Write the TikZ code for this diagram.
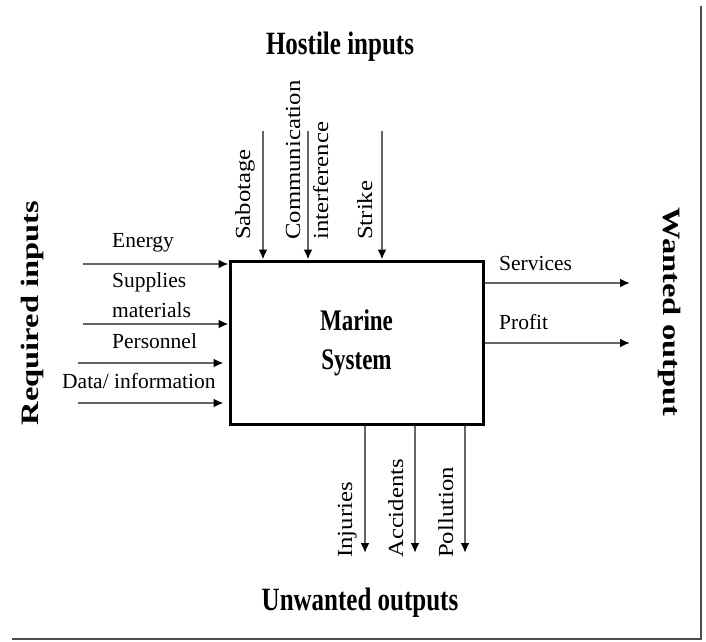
\documentclass[tikz,border=0pt]{standalone}
\usepackage{fontspec}
\setmainfont{Liberation Serif}
\usepackage{graphicx}
\usepackage{tikz}
\usetikzlibrary{arrows.meta}
\tikzset{>=latex}
\tikzstyle{flow} = [draw=black!60, line width=2pt, -{Latex[length=10pt, width=9pt, color=black]}]
\tikzstyle{lbl} = [draw=none, inner sep=0pt, font=\fontsize{21.5}{24}\selectfont]
\tikzstyle{ttl} = [draw=none, inner sep=0pt, font=\fontsize{25}{28}\selectfont\bfseries]
\newcommand{\tallbf}[1]{\scalebox{1}[1.3]{#1}}
\newcommand{\longbf}[1]{\scalebox{1.3}[1]{#1}}
\newcommand{\uplbl}[1]{\scalebox{1.15}[1]{#1}}

\begin{document}
\begin{tikzpicture}[x=1pt, y=-1pt]
\useasboundingbox (0,0) rectangle (706,641);
\fill [white] (0,0) rectangle (706,641);
\coordinate (F1) at (701,6);
\coordinate (F2) at (701,639);
\coordinate (F3) at (12,639);
\draw [black!70, line width=2pt] (F1) -- (F2) -- (F3);

\node [rectangle, draw, line width=3pt, minimum width=253pt, minimum height=163pt, inner sep=0pt,
       font=\fontsize{23}{30}\selectfont\bfseries] (M) at (356.5,342.5)
       {\tallbf{\begin{tabular}{c}Marine\\System\end{tabular}}};

\node [ttl] (H) at (340,47) {\tallbf{Hostile inputs}};
\node [ttl] (U) at (360,603) {\tallbf{Unwanted outputs}};
\node [ttl, rotate=90] (R) at (32,313) {\longbf{Required inputs}};
\node [ttl, rotate=-90] (W) at (670,312) {\longbf{Wanted output}};

\coordinate (e0) at (83,264);
\coordinate (s0) at (83,324);
\coordinate (p0) at (78,363);
\coordinate (d0) at (78,403);
\draw [flow] (e0) -- (e0 -| M.west);
\draw [flow] (s0) -- (s0 -| M.west);
\draw [flow, shorten >=5pt] (p0) -- (p0 -| M.west);
\draw [flow, shorten >=5pt] (d0) -- (d0 -| M.west);
\node [lbl, anchor=base west] (en) at (112,247) {Energy};
\node [lbl, anchor=base west] (su) at (112,287) {Supplies};
\node [lbl, anchor=base west] (ma) at (112,317) {materials};
\node [lbl, anchor=base west] (pe) at (112,348) {Personnel};
\node [lbl, anchor=base west] (da) at (62,388) {Data/ information};

\coordinate (h1) at (263,131);
\coordinate (h2) at (308,131);
\coordinate (h3) at (382,131);
\draw [flow] (h1) -- (h1 |- M.north);
\draw [flow] (h2) -- (h2 |- M.north);
\draw [flow] (h3) -- (h3 |- M.north);
\node [lbl, rotate=90, anchor=base west] (sab) at (250,240) {\uplbl{Sabotage}};
\node [lbl, rotate=90, anchor=base west] (com) at (300,240) {\uplbl{Communication}};
\node [lbl, rotate=90, anchor=base west] (itf) at (328,240) {\uplbl{interference}};
\node [lbl, rotate=90, anchor=base west] (stk) at (372,240) {\uplbl{Strike}};

\coordinate (w1) at (630,283);
\coordinate (w2) at (630,343);
\draw [flow] (w1 -| M.east) -- (w1);
\draw [flow] (w2 -| M.east) -- (w2);
\node [lbl, anchor=base west] (sv) at (499,270) {Services};
\node [lbl, anchor=base west] (pf) at (499,329) {Profit};

\coordinate (u1) at (365,553);
\coordinate (u2) at (415,553);
\coordinate (u3) at (465,553);
\draw [flow] (u1 |- M.south) -- (u1);
\draw [flow] (u2 |- M.south) -- (u2);
\draw [flow] (u3 |- M.south) -- (u3);
\node [lbl, rotate=90, anchor=base west] (inj) at (352,558) {\uplbl{Injuries}};
\node [lbl, rotate=90, anchor=base west] (acc) at (403,558) {\uplbl{Accidents}};
\node [lbl, rotate=90, anchor=base west] (pol) at (453,558) {\uplbl{Pollution}};
\end{tikzpicture}
\end{document}
